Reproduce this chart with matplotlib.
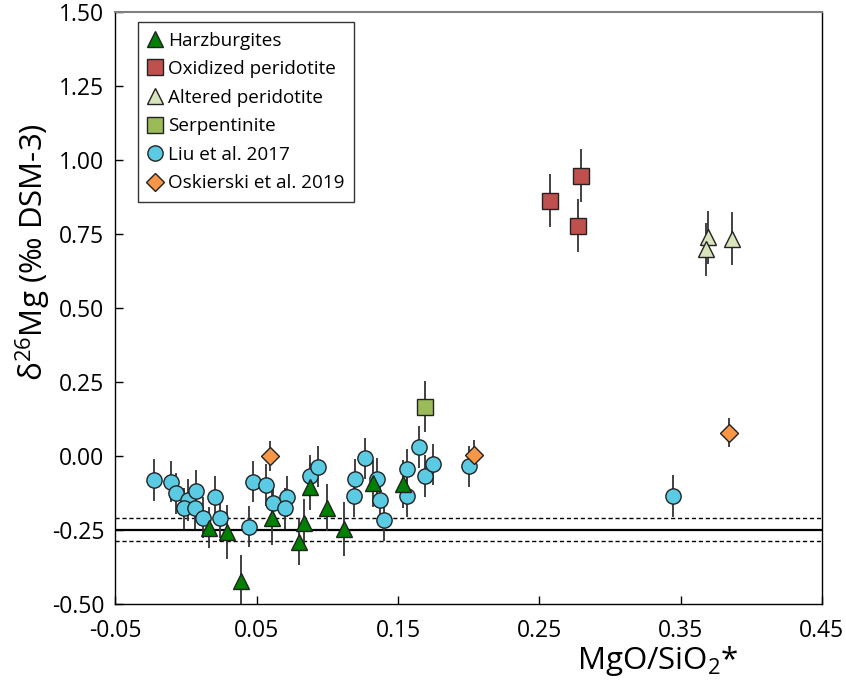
import matplotlib
matplotlib.use("Agg")
import matplotlib.pyplot as plt
from matplotlib.lines import Line2D

plt.rcParams['font.family'] = ['Open Sans', 'DejaVu Sans']
plt.rcParams['mathtext.fontset'] = 'custom'
plt.rcParams['mathtext.rm'] = 'Open Sans'
plt.rcParams['mathtext.it'] = 'Open Sans'

# ---- data ----
harz_x = [0.0388, 0.0164, 0.0291, 0.0605, 0.080, 0.0836, 0.0877, 0.100, 0.1117, 0.132, 0.1537]
harz_y = [-0.425, -0.243, -0.258, -0.211, -0.291, -0.226, -0.105, -0.176, -0.248, -0.093, -0.096]
harz_e = [0.09, 0.07, 0.09, 0.09, 0.08, 0.08, 0.08, 0.08, 0.09, 0.08, 0.08]

oxi_x = [0.2575, 0.2797, 0.2775]
oxi_y = [0.862, 0.946, 0.777]
oxi_e = [0.09, 0.09, 0.09]

alt_x = [0.3695, 0.368, 0.3863]
alt_y = [0.738, 0.698, 0.734]
alt_e = [0.09, 0.09, 0.09]

serp_x = [0.1693]
serp_y = [0.166]
serp_e = [0.085]

liu_x = [-0.0228, -0.0109, -0.0072, 0.0015, -0.0015, 0.007, 0.0065, 0.0117, 0.0204, 0.024,
         0.0445, 0.0475, 0.0565, 0.0613, 0.0712, 0.070, 0.0877, 0.0931, 0.1193, 0.1188,
         0.1264, 0.1353, 0.1372, 0.1398, 0.1563, 0.1563, 0.165, 0.1693, 0.1747, 0.2002, 0.3449]
liu_y = [-0.082, -0.088, -0.127, -0.150, -0.178, -0.119, -0.178, -0.210, -0.139, -0.210,
         -0.240, -0.088, -0.099, -0.161, -0.139, -0.178, -0.069, -0.037, -0.080, -0.136,
         -0.009, -0.079, -0.150, -0.217, -0.046, -0.136, 0.030, -0.069, -0.029, -0.036, -0.137]
liu_e = [0.07] * len(liu_x)

osk_x = [0.0593, 0.2037, 0.384]
osk_y = [-0.001, 0.002, 0.078]
osk_e = [0.05, 0.05, 0.05]

ref_mean = -0.25
ref_err = 0.04

xticks = [-0.05, 0.05, 0.15, 0.25, 0.35, 0.45]
yticks = [-0.50, -0.25, 0.00, 0.25, 0.50, 0.75, 1.00, 1.25, 1.50]

# ---- plot ----
fig = plt.figure(figsize=(8.46, 6.83), dpi=100)
ax = fig.add_axes([0.1365, 0.1163, 0.835, 0.8661])

ax.axhline(ref_mean, color='black', lw=1.6, zorder=1)
ax.axhline(ref_mean + ref_err, color='black', lw=1.0, ls=(0, (3, 2)), zorder=1)
ax.axhline(ref_mean - ref_err, color='black', lw=1.0, ls=(0, (3, 2)), zorder=1)

ecol = '#333333'
edge = '#222222'

series = [
    (liu_x, liu_y, liu_e, 'o', '#5bcbe3', 11, 'Liu et al. 2017'),
    (osk_x, osk_y, osk_e, 'D', '#f79646', 9, 'Oskierski et al. 2019'),
    (serp_x, serp_y, serp_e, 's', '#9bbb59', 11, 'Serpentinite'),
    (oxi_x, oxi_y, oxi_e, 's', '#c0504d', 11, 'Oxidized peridotite'),
    (alt_x, alt_y, alt_e, '^', '#d8e4bc', 12, 'Altered peridotite'),
    (harz_x, harz_y, harz_e, '^', '#008000', 12, 'Harzburgites'),
]

for i, (x, y, e, m, c, ms, lab) in enumerate(series):
    ax.errorbar(x, y, yerr=e, fmt='none', ecolor=ecol, elinewidth=1.3, capsize=0, zorder=2)
    ax.plot(x, y, ls='none', marker=m, markersize=ms, markerfacecolor=c,
            markeredgecolor=edge, markeredgewidth=1.0, zorder=3 + i)

ax.set_xlim(-0.05, 0.45)
ax.set_ylim(-0.5, 1.5)
ax.set_xticks(xticks)
ax.set_xticklabels(['%.2f' % v for v in xticks])
ax.set_yticks(yticks)
ax.set_yticklabels(['%.2f' % v for v in yticks])
ax.tick_params(direction='in', length=6, width=1, labelsize=16.5)
ax.tick_params(axis='x', pad=11)
ax.tick_params(axis='y', pad=8)

for s in ['left', 'bottom', 'right']:
    ax.spines[s].set_color('black')
    ax.spines[s].set_linewidth(1.0)
ax.spines['top'].set_color('#808080')
ax.spines['top'].set_linewidth(1.5)

ax.set_xlabel('MgO/SiO$_2$*', fontsize=22.5)
ax.xaxis.set_label_coords(0.768, -0.068)
ax.set_ylabel('δ$^{26}$Mg (‰ DSM-3)', fontsize=22.5)
ax.yaxis.set_label_coords(-0.088, 0.594)

handles = [
    Line2D([], [], ls='none', marker='^', markersize=12, markerfacecolor='#008000', markeredgecolor=edge),
    Line2D([], [], ls='none', marker='s', markersize=12, markerfacecolor='#c0504d', markeredgecolor=edge),
    Line2D([], [], ls='none', marker='^', markersize=12, markerfacecolor='#d8e4bc', markeredgecolor=edge),
    Line2D([], [], ls='none', marker='s', markersize=12, markerfacecolor='#9bbb59', markeredgecolor=edge),
    Line2D([], [], ls='none', marker='o', markersize=11, markerfacecolor='#5bcbe3', markeredgecolor=edge),
    Line2D([], [], ls='none', marker='D', markersize=9, markerfacecolor='#f79646', markeredgecolor=edge),
]
labels = ['Harzburgites', 'Oxidized peridotite', 'Altered peridotite', 'Serpentinite',
          'Liu et al. 2017', 'Oskierski et al. 2019']
leg = ax.legend(handles, labels, loc='upper left', bbox_to_anchor=(0.032, 0.983),
                borderaxespad=0, fontsize=13.6, frameon=True, fancybox=False,
                handlelength=0.8, handletextpad=0.3, labelspacing=0.56,
                borderpad=0.5, edgecolor='black')
leg.get_frame().set_linewidth(1.0)

fig.savefig('out.png', dpi=100)
